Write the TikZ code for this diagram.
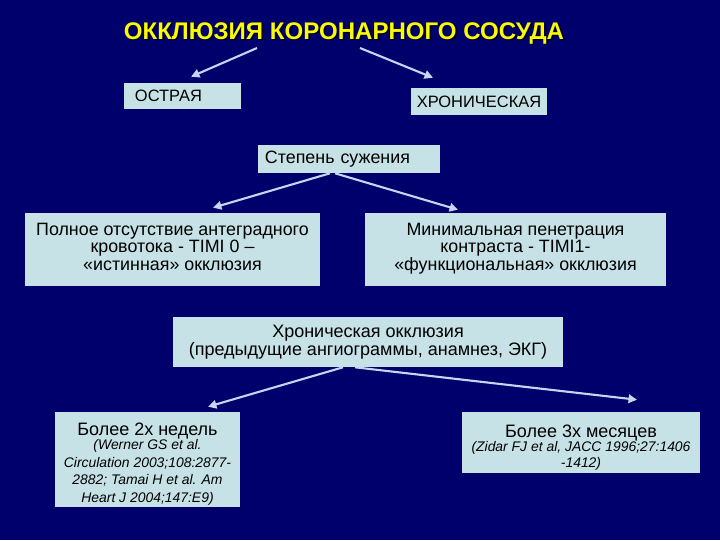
\documentclass[tikz,border=0pt]{standalone}
\usepackage{fontspec}
\setmainfont{Liberation Sans}
\usetikzlibrary{arrows.meta,positioning,calc}
\definecolor{slidebg}{RGB}{0,0,108}
\definecolor{boxfill}{RGB}{198,226,230}
\definecolor{linkcol}{RGB}{200,212,242}
\definecolor{titlecol}{RGB}{250,250,0}

\begin{document}
\begin{tikzpicture}[x=0.025cm, y=-0.025cm, font=\fontsize{12.7}{12.6}\selectfont,
    box/.style={fill=boxfill, text=black, inner sep=0pt, align=center},
    refs/.style={font=\itshape\fontsize{9.9}{#1}\selectfont},
    link/.style={draw=linkcol, line width=1.5pt, -{Triangle[length=6pt,width=6pt]}}]
    % Background
    \fill[slidebg] (0,0) rectangle (720,540);

    % Title
    \node[font=\bfseries\fontsize{17.1}{19}\selectfont, text=black, inner sep=0pt] at (345.5,34.5) {ОККЛЮЗИЯ КОРОНАРНОГО СОСУДА};
    \node (title)[font=\bfseries\fontsize{17.1}{19}\selectfont, text=titlecol, inner sep=0pt] at (344,33) {ОККЛЮЗИЯ КОРОНАРНОГО СОСУДА};

    % First level
    \node (acute)[box, font=\fontsize{11.7}{13}\selectfont, minimum width=2.925cm, minimum height=0.65cm, text width=2.375cm, align=left] at (182.5,96) {ОСТРАЯ};
    \node (chronic)[box, font=\fontsize{11.7}{13}\selectfont, minimum width=3.4cm, minimum height=0.675cm] at (479,101.5) {ХРОНИЧЕСКАЯ};
    \node (degree)[box, minimum width=4.55cm, minimum height=0.7cm, text width=4.2cm, align=left] at (349,159) {Степень сужения};

    % Degree of narrowing
    \node (total)[box, minimum width=7.375cm, minimum height=1.825cm] at (172.5,249.5)
        {Полное отсутствие антеградного\\кровотока - TIMI 0 –\\«истинная» окклюзия\rule[-4pt]{0pt}{4pt}};
    \node (minimal)[box, minimum width=7.525cm, minimum height=1.825cm] at (515.5,249.5)
        {Минимальная пенетрация\\контраста - TIMI1-\\«функциональная» окклюзия\rule[-4pt]{0pt}{4pt}};
    \node (chronocc)[box, minimum width=9.75cm, minimum height=1.25cm, font=\fontsize{12.8}{12.8}\selectfont] at (368,342)
        {Хроническая окклюзия\\(предыдущие ангиограммы, анамнез, ЭКГ)};

    % Duration
    \node (weeks)[box, refs=12.6, minimum width=4.625cm, minimum height=2.375cm] at (147.5,459.5)
        {{\upshape\fontsize{12.8}{13}\selectfont\rule{0pt}{16pt}Более 2х недель}\\[-3pt]
         (Werner GS et al.\\Circulation 2003;108:2877-\\2882; Tamai H et al. Am\\Heart J 2004;147:E9)};
    \node (months)[box, refs=11.2, minimum width=5.95cm, minimum height=1.525cm] at (581,442.5)
        {{\upshape\fontsize{12.8}{13}\selectfont\rule{0pt}{16pt}Более 3х месяцев}\\[-1pt]
         (Zidar FJ et al, JACC 1996;27:1406\\-1412)};

    % Arrows
    \draw[link] ($(title.center)+(-87,15)$) -- ($(acute.north)+(8.5,-6)$);
    \draw[link] ($(title.center)+(16,15)$) -- ($(chronic.north)+(-46,-10)$);
    \draw[link] ($(degree.south)+(-19,0)$) -- ($(total.north)+(40.5,-5)$);
    \draw[link] ($(degree.south)+(-14,0)$) -- ($(minimal.north)+(-57.5,-3)$);
    \draw[link] ($(chronocc.south)+(-25,0)$) -- ($(weeks.north)+(60.5,-5)$);
    \draw[link] ($(chronocc.south)+(-13,0)$) -- ($(months.north)+(56,-12)$);
\end{tikzpicture}
\end{document}
